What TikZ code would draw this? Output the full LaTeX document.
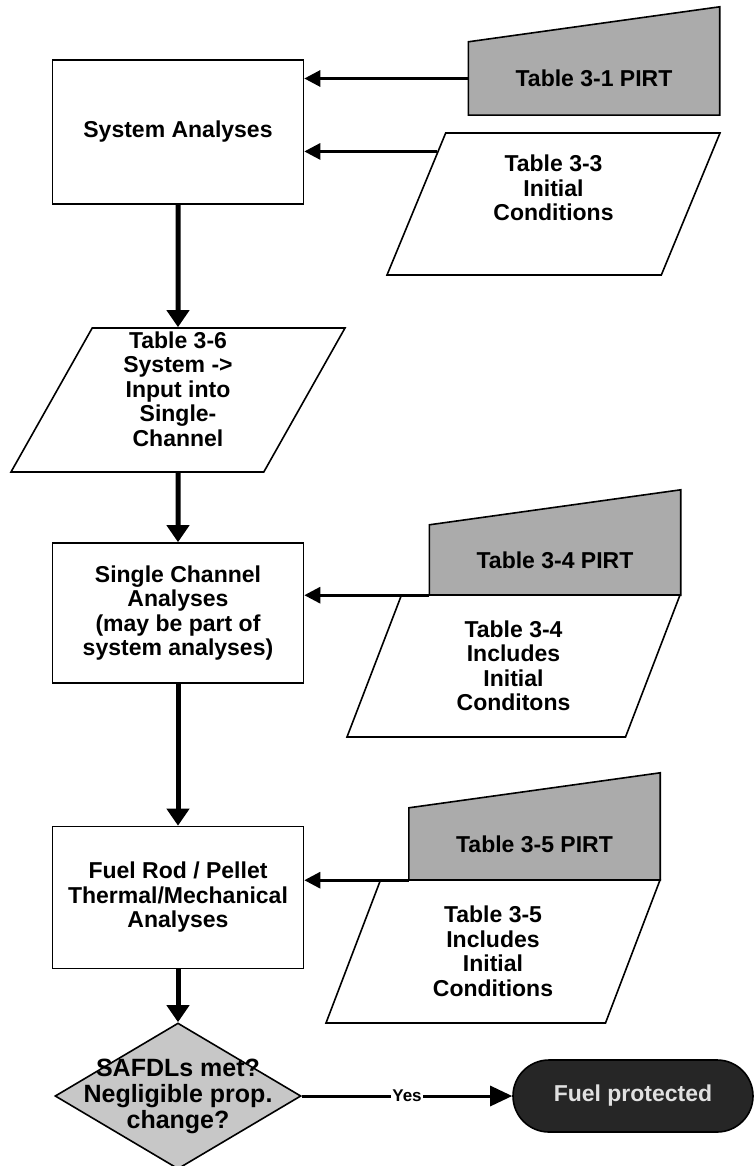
\documentclass[tikz,border=0pt]{standalone}
\usepackage{fontspec}
\setmainfont{Liberation Sans}
\usetikzlibrary{arrows.meta,positioning,calc,shapes.geometric,backgrounds}

\begin{document}
\begin{tikzpicture}[x=1pt,y=-1pt,
  every node/.style={font=\bfseries\fontsize{23}{24.5}\selectfont},
  proc/.style={draw=black,line width=1.6pt,fill=white,align=center,inner sep=4pt,minimum width=251pt,minimum height=142pt},
  para/.style={trapezium,trapezium left angle=60,trapezium right angle=120,trapezium stretches body,draw=black,line width=1.6pt,fill=white,align=center,inner sep=2pt,minimum width=333pt,minimum height=143pt},
  pirt/.style={align=center,inner sep=0pt,minimum width=251pt,minimum height=72pt},
  pirtbg/.style={draw=black,line width=1.6pt,fill=black!33},
  chk/.style={diamond,draw=black,line width=1.6pt,fill=black!22,inner sep=0pt,minimum width=246pt,minimum height=146pt},
  endbox/.style={draw=black,line width=1.6pt,fill=black!85,text=black!12,rounded corners=36pt,minimum width=240pt,minimum height=72pt},
  yes/.style={fill=white,inner sep=1pt,font=\bfseries\fontsize{17}{19}\selectfont},
  ar/.style={-{Triangle[length=17pt,width=22pt]},line width=5pt},
  har/.style={-{Triangle[length=16pt,width=16pt]},line width=3pt}]
\useasboundingbox (0,0) rectangle (755,1166);
% main column
\node[proc,minimum height=144pt] (sys) at (178,132) {System Analyses};
\node[para,minimum width=334pt,minimum height=144pt] (tab36) at (178,400) {Table 3-6\\System ->\\Input into\\Single-\\Channel\rule[-22pt]{0pt}{0pt}};
\node[proc,minimum height=140pt] (chan) at (178,613) {Single Channel\\Analyses\\(may be part of\\system analyses)};
\node[proc] (fuel) at (178,897.5) {Fuel Rod / Pellet\\Thermal/Mechanical\\Analyses};
\node[chk,label={[align=center,font=\bfseries\fontsize{25}{26}\selectfont]center:SAFDLs met?\\Negligible prop.\\change?}] (chk) at (178,1096) {};
\node[endbox] (done) at (633,1096) {Fuel protected};
% inputs on the right
\node[pirt,minimum height=73pt] (pirt1) at (594,78.5) {Table 3-1 PIRT};
\node[para,minimum height=142pt] (tab33) at (553.5,204) {Table 3-3\\Initial\\Conditions\rule[-32pt]{0pt}{0pt}};
\node[pirt,minimum height=70pt] (pirt4) at (555,560) {Table 3-4 PIRT};
\node[para,minimum height=142pt] (tab34) at (513.5,666) {Table 3-4\\Includes\\Initial\\Conditons};
\node[pirt] (pirt5) at (534.5,844) {Table 3-5 PIRT};
\node[para,minimum width=334pt] (tab35) at (493,951.5) {Table 3-5\\Includes\\Initial\\Conditions};
\begin{scope}[on background layer]
\foreach \p in {pirt1,pirt4,pirt5}
  \draw[pirtbg] (\p.south west) -- (\p.north west) -- ([yshift=35pt]\p.north east) -- (\p.south east) -- cycle;
\end{scope}
\coordinate (in33) at ($(tab33.top left corner)!0.134!(tab33.bottom left corner)$);
\draw[har] (pirt1.west) -- (pirt1.west -| sys.east);
\draw[har] (in33) -- (in33 -| sys.east);
\draw[har] (pirt4.south west) -- (pirt4.south west -| chan.east);
\draw[har] (pirt5.south west) -- (pirt5.south west -| fuel.east);
\draw[ar] (sys.south) -- (tab36.north);
\draw[ar] (tab36.south) -- (chan.north);
\draw[ar] (chan.south) -- (fuel.north);
\draw[ar] (fuel.south) -- (chk.north);
\draw[har,-{Triangle[length=22pt,width=20pt]}] (chk.east) -- node[yes] {Yes} (done.west);
\end{tikzpicture}
\end{document}
